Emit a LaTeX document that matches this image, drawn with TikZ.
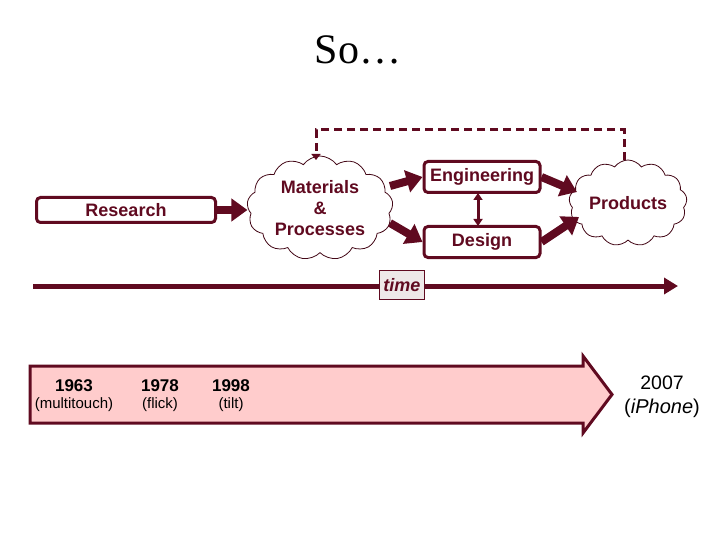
\documentclass[tikz,border=0pt]{standalone}
\usepackage{fontspec}
\setmainfont{Liberation Sans}
\newfontfamily\serifttl{Liberation Serif}
\usetikzlibrary{shapes.symbols,arrows.meta}
\definecolor{maroon}{RGB}{96,10,32}
\definecolor{pinkfill}{RGB}{255,204,204}
\definecolor{timefill}{RGB}{238,232,232}
\tikzset{
  rbox/.style={draw=maroon, line width=3pt, rounded corners=4pt, fill=white, text=maroon,
    font=\fontsize{18}{20}\selectfont\bfseries, inner sep=0pt},
  cloudy/.style={cloud, cloud puffs=13, cloud puff arc=110, cloud ignores aspect, draw=maroon!70!black, line width=0.8pt,
    fill=white, text=maroon, align=center, inner sep=0pt,
    font=\fontsize{18}{21}\selectfont\bfseries},
  fatarrow/.style={draw=maroon, line width=8pt, -{Triangle[length=16pt,width=22pt]}},
  yeartxt/.style={font=\fontsize{17}{19}\selectfont\bfseries},
  subtxt/.style={font=\fontsize{15}{17}\selectfont},
}
\begin{document}
\begin{tikzpicture}[x=1pt,y=-1pt]
\useasboundingbox (0,0) rectangle (720,540);
% title
\node[font=\serifttl\fontsize{42}{46}\selectfont] (title) at (358,50) {So\ldots};
% nodes
\node[rbox, minimum width=179pt, minimum height=25pt] (res) at (126,210) {Research};
\node[cloudy, minimum width=146pt, minimum height=104pt] (mat) at (320,208) {Materials\\\&\\Processes};
\node[rbox, minimum width=116pt, minimum height=31pt] (eng) at (482,177) {Engineering};
\node[rbox, minimum width=116pt, minimum height=31pt] (des) at (482,242) {Design};
\node[cloudy, minimum width=118pt, minimum height=86pt] (prod) at (628,203) {Products};
% connectors
\draw[fatarrow] (res.east) -- (mat.west |- res.east);
\draw[fatarrow] (390,186) -- (eng.west);
\draw[fatarrow] (390,223) -- (des.west);
\draw[fatarrow] (eng.east) -- (577,192);
\draw[fatarrow] (des.east) -- (579,217);
\draw[maroon, line width=3pt, {Triangle[length=7pt,width=9pt]}-{Triangle[length=7pt,width=9pt]}] (478,193) -- (478,226);
\coordinate (dA) at (316,130);
\coordinate (dB) at (624,130);
\draw[maroon, line width=3pt, dash pattern=on 8pt off 5pt, -{Triangle[length=6pt,width=9pt]}]
  (624,160) -- (dB) -- (dA) -- (316,160);
% time axis
\coordinate (tl) at (33,286);
\coordinate (tr) at (678,286);
\draw[maroon, line width=5pt, -{Triangle[length=14pt,width=16pt]}] (tl) -- (tr);
\node[draw=maroon, line width=0.8pt, fill=timefill, text=maroon, minimum width=45pt, minimum height=29pt,
  inner sep=0pt, font=\fontsize{18}{20}\selectfont\bfseries\itshape] (time) at (402,285) {time};
% big arrow
\draw[maroon, line width=3pt, fill=pinkfill, line join=miter]
  (30,366) -- (583,366) -- (583,356) -- (612,394.5) -- (583,433) -- (583,423) -- (30,423) -- cycle;
\node[yeartxt] (y63) at (74,386) {1963};
\node[subtxt] (s63) at (74,405) {(multitouch)};
\node[yeartxt] (y78) at (160,386) {1978};
\node[subtxt] (s78) at (160,405) {(flick)};
\node[yeartxt] (y98) at (231,386) {1998};
\node[subtxt] (s98) at (231,405) {(tilt)};
\node[font=\fontsize{19.5}{21}\selectfont] (y07) at (662,383) {2007};
\node[font=\fontsize{20}{22}\selectfont] (s07) at (662,408) {(\textit{iPhone})};
\end{tikzpicture}
\end{document}
